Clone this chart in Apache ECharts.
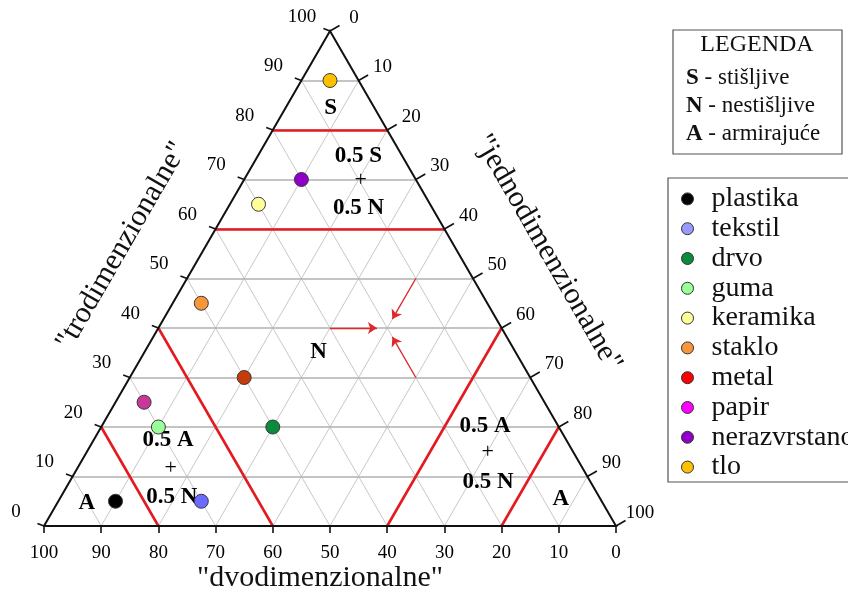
<!DOCTYPE html>
<html><head><meta charset="utf-8">
<script src="https://cdn.jsdelivr.net/npm/echarts@6/dist/echarts.min.js"></script>
<style>html,body{margin:0;padding:0;background:#fff}#c{width:848px;height:594px}</style>
</head><body><div id="c"></div>
<script>
// ---------------- DATA ----------------
const materials = ['plastika','tekstil','drvo','guma','keramika','staklo','metal','papir','nerazvrstano','tlo'];
const troVals   = [5, 5, 20, 20, 65, 45, 30, 25, 70, 90];   // "trodimenzionalne"
const dvoVals   = [85, 70, 50, 70, 30, 50, 50, 70, 20, 5];   // "dvodimenzionalne"
const jednoVals = [10, 25, 30, 10, 5, 5, 20, 5, 10, 5];      // "jednodimenzionalne"
const pointColors  = ['#000000','#6b6bff','#0a8c3c','#99ff99','#ffff99','#f7963a','#c43c0a','#c8389a','#9000c8','#ffc000'];
const legendColors = ['#000000','#9999ff','#0a8c3c','#99ff99','#ffff99','#f7963a','#ff0000','#ff00ff','#9000c8','#ffc000'];

const gridValues = [10,20,30,40,50,60,70,80,90];
const axisTicks  = [0,10,20,30,40,50,60,70,80,90,100];
const axisTickLabels = ['0','10','20','30','40','50','60','70','80','90','100'];

const zoneTro   = [60, 80];   // horizontal red boundaries
const zoneDvo   = [60, 80];
const zoneJedno = [60, 80];

const arrowTarget = {tro: 40, dvo: 20, jedno: 40};
const arrowStartTro   = [40, 50, 30];
const arrowStartDvo   = [30, 10, 20];
const arrowStartJedno = [30, 40, 50];

const zoneLabels = ['S','0.5 S','+','0.5 N','N','0.5 A','+','0.5 N','A','0.5 A','+','0.5 N','A'];

const legendBoxTitle = 'LEGENDA';
const legendBoxLines = [['S',' - stišljive'],['N',' - nestišljive'],['A',' - armirajuće']];
const axisTitles = ['"dvodimenzionalne"','"trodimenzionalne"','"jednodimenzionalne"'];

// ---------------- LAYOUT (anchors, in ternary units) ----------------
const zoneLabelTro   = [84.4, 74.7, 69.9, 64.2, 35.2, 17.4, 11.7, 5.9, 4.6, 20.2, 14.9, 8.9, 5.5];
const zoneLabelJedno = [7.9, 17.6, 20.4, 22.9, 30.4, 13.0, 16.3, 19.4, 5.2, 67.0, 70.1, 73.2, 87.6];

const SQ = Math.sqrt(3) / 2;
function tern(t, j) { return [j + t / 2, t * SQ]; }
const PX = 572 / 100; // pixels per unit
const FONT = '"Liberation Serif", "Times New Roman", serif';

// grid lines
const gridH = [], gridD = [];
gridValues.forEach(v => {
  gridH.push({coords: [tern(v, 0), tern(v, 100 - v)]});
  gridD.push({coords: [tern(100 - v, 0), tern(0, 100 - v)]});   // constant dvo = v
  gridD.push({coords: [tern(100 - v, v), tern(0, v)]});         // constant jedno = v
});
// zone lines
const zoneLines = [];
zoneTro.forEach(v => zoneLines.push({coords: [tern(v, 0), tern(v, 100 - v)]}));
zoneDvo.forEach(v => zoneLines.push({coords: [tern(100 - v, 0), tern(0, 100 - v)]}));
zoneJedno.forEach(v => zoneLines.push({coords: [tern(100 - v, v), tern(0, v)]}));
// frame
const frame = [{coords: [tern(0, 0), tern(0, 100), tern(100, 0), tern(0, 0)]}];
// ticks
const tickLines = [];
const lt = [-7 * 0.94 / PX, 7 * 0.34 / PX], rt = [11 * 0.866 / PX, 11 * 0.5 / PX], bt = [0, -7 / PX];
axisTicks.forEach(v => {
  const l = tern(v, 0); tickLines.push({coords: [l, [l[0] + lt[0], l[1] + lt[1]]]});
  const r = tern(100 - v, v); tickLines.push({coords: [r, [r[0] + rt[0], r[1] + rt[1]]]});
  const b = tern(0, 100 - v); tickLines.push({coords: [b, [b[0] + bt[0], b[1] + bt[1]]]});
});
// arrows
const arrows = arrowStartTro.map((t, i) => {
  const s = tern(t, arrowStartJedno[i]);
  const e = tern(arrowTarget.tro, arrowTarget.jedno);
  const f = 0.82;
  return {coords: [s, [s[0] + (e[0] - s[0]) * f, s[1] + (e[1] - s[1]) * f]]};
});

function labelSeries(points, offset) {
  return {
    type: 'scatter', silent: true, clip: false, symbolSize: 0, z: 5,
    itemStyle: {color: '#000', opacity: 1},
    data: points,
    label: {show: true, position: 'inside', offset: offset, formatter: p => p.data.name,
      fontFamily: FONT, fontSize: 19, color: '#000', textBorderWidth: 0, opacity: 1}
  };
}
const leftLabels   = axisTicks.map((v, i) => ({name: axisTickLabels[i], value: tern(v, 0)}));
const rightLabels  = axisTicks.map((v, i) => ({name: axisTickLabels[i], value: tern(100 - v, v)}));
const bottomLabels = axisTicks.map((v, i) => ({name: axisTickLabels[i], value: tern(0, 100 - v)}));

const zoneLabelData = zoneLabels.map((s, i) => ({
  name: s, value: tern(zoneLabelTro[i], zoneLabelJedno[i]),
  label: s === '+' ? {fontWeight: 'normal', fontSize: 22} : {}
}));

const series = [
  {type: 'lines', coordinateSystem: 'cartesian2d', silent: true, clip: false, z: 1,
   lineStyle: {color: '#c8c8c8', width: 1, opacity: 1}, data: gridD},
  {type: 'lines', coordinateSystem: 'cartesian2d', silent: true, clip: false, z: 1,
   lineStyle: {color: '#b0b0b0', width: 1.6, opacity: 1}, data: gridH},
  {type: 'lines', coordinateSystem: 'cartesian2d', silent: true, clip: false, z: 2,
   lineStyle: {color: '#e31a1f', width: 2.6, opacity: 1}, data: zoneLines},
  {type: 'lines', coordinateSystem: 'cartesian2d', silent: true, clip: false, z: 2,
   symbol: ['none', 'arrow'], symbolSize: 9,
   lineStyle: {color: '#e0282c', width: 1.3, opacity: 1}, data: arrows},
  {type: 'lines', coordinateSystem: 'cartesian2d', silent: true, clip: false, z: 3, polyline: true,
   lineStyle: {color: '#111', width: 2, opacity: 1}, data: frame},
  {type: 'lines', coordinateSystem: 'cartesian2d', silent: true, clip: false, z: 3,
   lineStyle: {color: '#111', width: 1.6, opacity: 1}, data: tickLines},
  labelSeries(leftLabels, [-28, -14]),
  labelSeries(rightLabels, [24, -13]),
  labelSeries(bottomLabels, [0, 27]),
  {type: 'scatter', silent: true, clip: false, symbolSize: 0, z: 6,
   itemStyle: {color: '#000', opacity: 1}, data: zoneLabelData,
   label: {show: true, position: 'inside', formatter: p => p.data.name, textBorderWidth: 0, opacity: 1,
     fontFamily: FONT, fontSize: 23, fontWeight: 'bold', color: '#000'}}
];
materials.forEach((m, i) => {
  series.push({
    type: 'scatter', name: m, clip: false, z: 10, symbol: 'circle', symbolSize: 14,
    itemStyle: {color: pointColors[i], borderColor: '#3a3a3a', borderWidth: 1, opacity: 1},
    data: [tern(troVals[i], jednoVals[i])]
  });
});

const chart = echarts.init(document.getElementById('c'), null, {renderer: 'canvas'});
chart.setOption({
  animation: false,
  backgroundColor: '#fff',
  grid: {left: 44, right: 232, top: 31, bottom: 68},
  xAxis: {type: 'value', min: 0, max: 100, show: false},
  yAxis: {type: 'value', min: 0, max: 100 * SQ, show: false},
  legend: {
    orient: 'vertical', left: 668, top: 178,
    padding: [6, 24, 0, 13], itemGap: 0, itemWidth: 38, itemHeight: 12,
    icon: 'circle',
    backgroundColor: '#fff', borderColor: '#555', borderWidth: 1.2, borderRadius: 0,
    itemStyle: {borderColor: '#333', borderWidth: 1},
    textStyle: {fontFamily: FONT, fontSize: 28, lineHeight: 29.8, color: '#111'},
    data: materials.map((m, i) => ({name: m, itemStyle: {color: legendColors[i]}}))
  },
  graphic: [
    {type: 'group', children: [
      {type: 'rect', shape: {x: 673, y: 30, width: 169, height: 124},
       style: {fill: '#fff', stroke: '#555', lineWidth: 1.2}},
      {type: 'text', x: 757, y: 45, style: {text: legendBoxTitle, fontFamily: FONT, fontSize: 24,
        fill: '#111', align: 'center', verticalAlign: 'middle'}}
    ].concat(legendBoxLines.map((l, i) => ({
      type: 'text', x: 686, y: 78 + i * 28,
      style: {text: '{b|' + l[0] + '}' + l[1], fontFamily: FONT, fontSize: 23, fill: '#111',
        align: 'left', verticalAlign: 'middle',
        rich: {b: {fontFamily: FONT, fontSize: 23, fontWeight: 'bold', fill: '#111'}}}
    })))},
    {type: 'text', x: 320, y: 578, style: {text: axisTitles[0], fontFamily: FONT, fontSize: 30,
      fill: '#111', align: 'center', verticalAlign: 'middle'}},
    {type: 'text', x: 122, y: 246, rotation: Math.PI / 3, style: {text: axisTitles[1], fontFamily: FONT,
      fontSize: 30, fill: '#111', align: 'center', verticalAlign: 'middle'}},
    {type: 'text', x: 548, y: 253, rotation: -Math.PI / 3, style: {text: axisTitles[2], fontFamily: FONT,
      fontSize: 30, fill: '#111', align: 'center', verticalAlign: 'middle'}}
  ],
  series: series
});
</script></body></html>
